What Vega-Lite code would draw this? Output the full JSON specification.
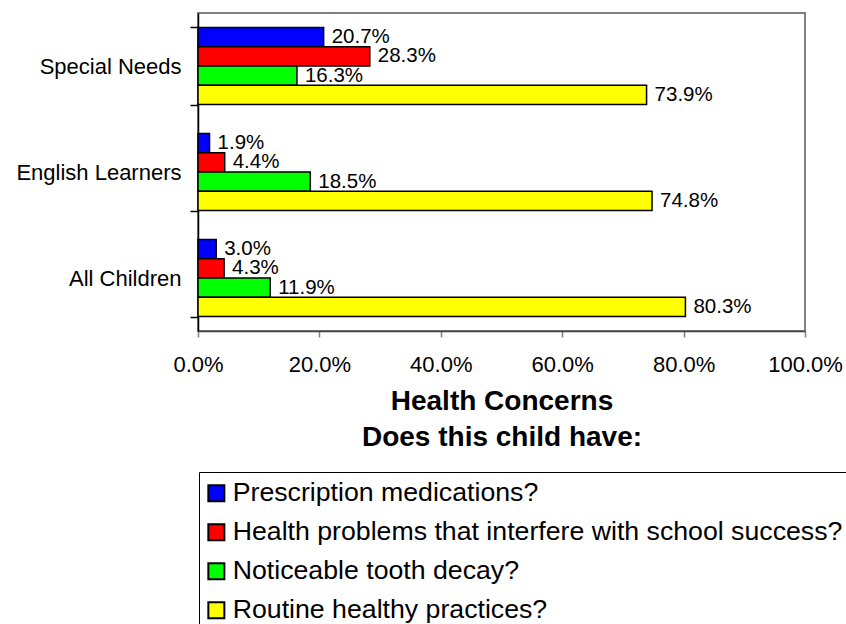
{
  "$schema": "https://vega.github.io/schema/vega-lite/v6.json",
  "autosize": {"type": "none"},
  "width": 607,
  "height": 318,
  "padding": {"left": 198, "top": 13, "right": 41, "bottom": 293},
  "background": "white",
  "config": {
    "font": "Liberation Sans",
    "view": {"stroke": "#808080", "strokeWidth": 2}
  },
  "data": {
    "values": [
      {"group": "Special Needs", "concern": "Prescription medications?", "value": 0.207},
      {"group": "Special Needs", "concern": "Health problems that interfere with school success?", "value": 0.283},
      {"group": "Special Needs", "concern": "Noticeable tooth decay?", "value": 0.163},
      {"group": "Special Needs", "concern": "Routine healthy practices?", "value": 0.739},
      {"group": "English Learners", "concern": "Prescription medications?", "value": 0.019},
      {"group": "English Learners", "concern": "Health problems that interfere with school success?", "value": 0.044},
      {"group": "English Learners", "concern": "Noticeable tooth decay?", "value": 0.185},
      {"group": "English Learners", "concern": "Routine healthy practices?", "value": 0.748},
      {"group": "All Children", "concern": "Prescription medications?", "value": 0.030},
      {"group": "All Children", "concern": "Health problems that interfere with school success?", "value": 0.043},
      {"group": "All Children", "concern": "Noticeable tooth decay?", "value": 0.119},
      {"group": "All Children", "concern": "Routine healthy practices?", "value": 0.803}
    ]
  },
  "encoding": {
    "y": {
      "field": "group",
      "type": "nominal",
      "sort": ["Special Needs", "English Learners", "All Children"],
      "scale": {"paddingInner": 0.273, "paddingOuter": 0.1365},
      "axis": {
        "title": null,
        "tickBand": "extent",
        "domainColor": "black",
        "domainWidth": 1.5,
        "tickColor": "black",
        "tickWidth": 1.5,
        "tickSize": 8,
        "labelFontSize": 22,
        "labelColor": "black",
        "labelPadding": 9
      }
    },
    "yOffset": {
      "field": "concern",
      "type": "nominal",
      "sort": ["Prescription medications?", "Health problems that interfere with school success?", "Noticeable tooth decay?", "Routine healthy practices?"],
      "scale": {"paddingInner": 0, "paddingOuter": 0}
    },
    "x": {
      "field": "value",
      "type": "quantitative",
      "scale": {"domain": [0, 1], "nice": false},
      "axis": {
        "values": [0, 0.2, 0.4, 0.6, 0.8, 1.0],
        "format": ".1%",
        "grid": false,
        "domainColor": "#404040",
        "domainWidth": 1.5,
        "tickColor": "#808080",
        "tickWidth": 1.5,
        "tickSize": 6,
        "labelFontSize": 22,
        "labelColor": "black",
        "labelPadding": 17,
        "labelFlush": false,
        "title": ["Health Concerns", "Does this child have:"],
        "titleFontSize": 28,
        "titleFontWeight": "bold",
        "titleColor": "black",
        "titleLineHeight": 36,
        "titlePadding": 12
      }
    }
  },
  "layer": [
    {
      "mark": {"type": "bar", "stroke": "black", "strokeWidth": 1.5},
      "encoding": {
        "color": {
          "field": "concern",
          "type": "nominal",
          "scale": {
            "domain": ["Prescription medications?", "Health problems that interfere with school success?", "Noticeable tooth decay?", "Routine healthy practices?"],
            "range": ["#0000FF", "#FF0000", "#00FF00", "#FFFF00"]
          },
          "legend": {
            "title": null,
            "orient": "none",
            "legendX": 1,
            "legendY": 459,
            "direction": "vertical",
            "symbolType": "square",
            "symbolSize": 256,
            "symbolStrokeColor": "black",
            "symbolStrokeWidth": 2,
            "symbolOpacity": 1,
            "symbolOffset": -4,
            "labelFontSize": 26.7,
            "labelColor": "black",
            "labelOffset": 3,
            "labelLimit": 1000,
            "rowPadding": 11,
            "padding": 8,
            "strokeColor": "black",
            "fillColor": "white"
          }
        }
      }
    },
    {
      "mark": {"type": "text", "align": "left", "baseline": "middle", "dx": 8, "fontSize": 20.5, "color": "black"},
      "encoding": {
        "text": {"field": "value", "type": "quantitative", "format": ".1%"}
      }
    }
  ]
}
